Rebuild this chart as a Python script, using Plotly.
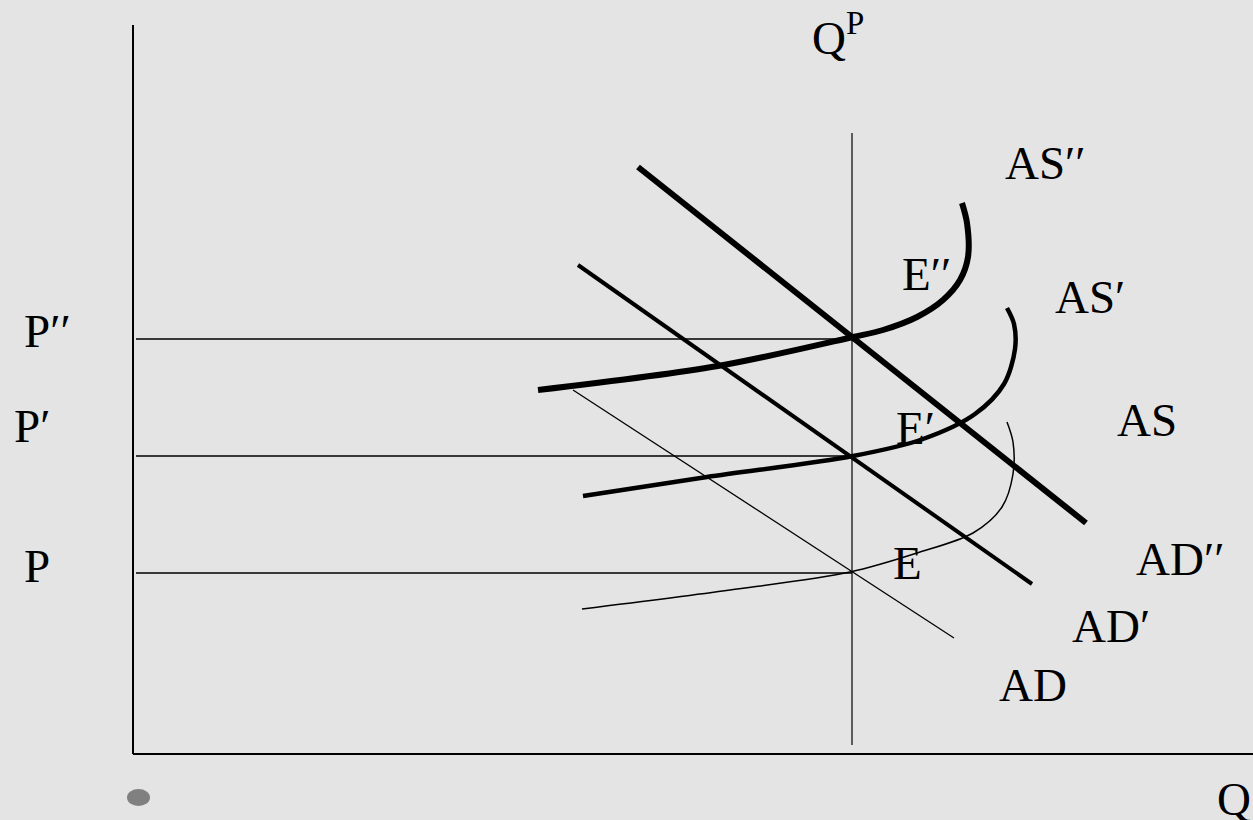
import plotly.graph_objects as go

# ---- data (diagram coordinates: Q to the right, P upward) ----
AS2_Q = [405, 585, 720, 750, 784, 810, 827, 835, 834, 829]
AS2_P = [364, 388, 417, 424, 437, 454, 474, 497, 531, 551]
AS1_Q = [450, 574, 720, 790, 842, 871, 882, 881, 874]
AS1_P = [258, 277, 298, 315, 340, 370, 405, 430, 446]
AS0_Q = [449, 597, 717, 784, 840, 869, 880, 880, 874]
AS0_P = [145, 164, 182, 201, 221, 247, 280, 312, 332]

AD2_Q = [505, 953]
AD2_P = [587, 231]
AD1_Q = [445, 899]
AD1_P = [489, 170]
AD0_Q = [440, 821]
AD0_P = [364, 116]

Q_EQ = 719                 # Q^P
P_LEVELS = [415, 298, 181]  # P'', P', P
P_LABELS = ["P′′", "P′", "P"]

FONT = "Liberation Serif"
BG = "#e4e4e4"
FS = 47

fig = go.Figure()

def line(q, p, w, shape="linear"):
    fig.add_trace(go.Scatter(x=q, y=p, mode="lines",
                             line=dict(color="black", width=w, shape=shape, smoothing=0.9),
                             hoverinfo="skip", showlegend=False))

# axes
line([0, 0], [0, 729], 2)
line([0, 1120], [0, 0], 2)
# Q^P vertical
line([Q_EQ, Q_EQ], [9, 621], 1.2)
# price levels
for pl in P_LEVELS:
    line([3, Q_EQ], [pl, pl], 1.5)

# AD curves
line(AD0_Q, AD0_P, 1.3)
line(AD1_Q, AD1_P, 4)
line(AD2_Q, AD2_P, 6)
# AS curves
line(AS0_Q, AS0_P, 1.5, "spline")
line(AS1_Q, AS1_P, 4.5, "spline")
line(AS2_Q, AS2_P, 6, "spline")

labels = [
    ("AS′′", 870, 591), ("AS′", 920, 457), ("AS", 982, 334),
    ("E′′", 767, 480), ("E′", 761, 326), ("E", 758, 191),
    ("AD′′", 1001, 195), ("AD′", 937, 128), ("AD", 864, 69),
    ("Q", 1082, -45),
]
for txt, q, p in labels:
    fig.add_annotation(x=q, y=p, text=txt, showarrow=False, xanchor="left", yanchor="middle",
                       font=dict(family=FONT, size=FS, color="black"))
plx = [-111, -121, -111]
pdy = [8, 30, 7]
for txt, q, p, d in zip(P_LABELS, plx, P_LEVELS, pdy):
    fig.add_annotation(x=q, y=p + d, text=txt, showarrow=False, xanchor="left", yanchor="middle",
                       font=dict(family=FONT, size=FS, color="black"))
fig.add_annotation(x=677, y=720, text="Q<sup>P</sup>", showarrow=False, xanchor="left", yanchor="middle",
                   font=dict(family=FONT, size=FS, color="black"))

# bullet dot
fig.add_shape(type="circle", xref="x", yref="y", x0=-6, x1=17, y0=-52, y1=-35,
              fillcolor="#808080", line=dict(width=0))

fig.update_layout(
    width=1253, height=820, margin=dict(l=0, r=0, t=0, b=0),
    paper_bgcolor=BG, plot_bgcolor=BG,
    xaxis=dict(range=[-133, 1120], visible=False, fixedrange=True),
    yaxis=dict(range=[-66, 754], visible=False, fixedrange=True),
)
fig.write_html("out.html", config={"displayModeBar": False},
               post_script="document.body.style.margin='0';document.body.style.background='%s';" % BG)
